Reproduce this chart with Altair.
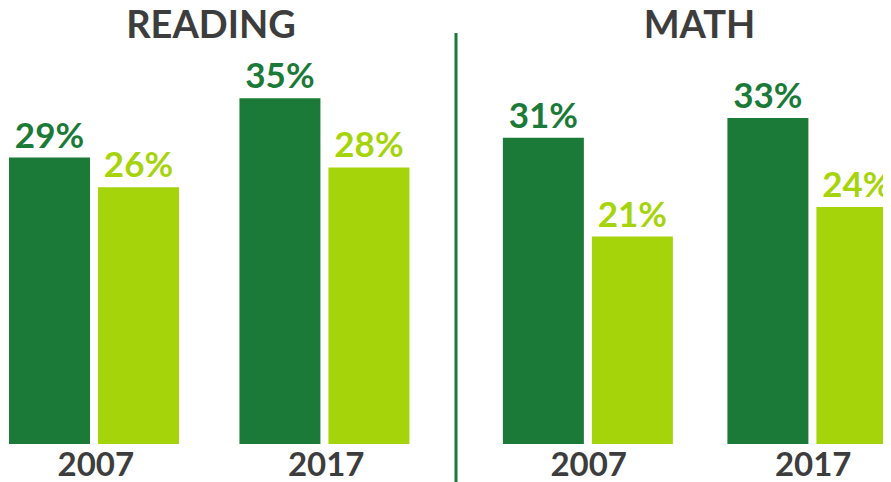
import altair as alt
import pandas as pd

# ---- data ----
years = ["2007", "2007", "2017", "2017"]
groups = ["Group A", "Group B", "Group A", "Group B"]
reading_values = [29, 26, 35, 28]
math_values = [31, 21, 33, 24]
panel_titles = ["READING", "MATH"]
group_domain = ["Group A", "Group B"]
group_colors = ["#1b7a38", "#a6d40a"]

H = 400
Y_MAX = 40.5
FONT = "Lato"
GRAY = "#3d3d3d"
DIVIDER = "#1b7a38"


def panel(title, values, width, x_scale, xo_scale, label_offset=0, title_x=None, divider=False):
    df = pd.DataFrame({"year": years, "group": groups, "value": values})
    base = alt.Chart(df).transform_calculate(label="datum.value + '%'")
    x = alt.X(
        "year:N",
        scale=x_scale,
        axis=alt.Axis(
            title=None, labelAngle=0, domain=False, ticks=False, tickSize=0,
            labelPadding=31, labelBaseline="alphabetic", labelOffset=label_offset,
            labelFontSize=33, labelFont=FONT, labelFontWeight="bold", labelColor=GRAY,
        ),
    )
    xo = alt.XOffset("group:N", scale=xo_scale)
    y = alt.Y("value:Q", scale=alt.Scale(domain=[0, Y_MAX]), axis=None)
    color = alt.Color("group:N", scale=alt.Scale(domain=group_domain, range=group_colors), legend=None)
    bars = base.mark_bar(clip=True).encode(x=x, xOffset=xo, y=y, color=color)
    text = base.mark_text(
        clip=True, dy=-10, baseline="alphabetic", fontSize=35, font=FONT, fontWeight="bold"
    ).encode(x=x, xOffset=xo, y=y, text="label:N", color=color)
    head = alt.Chart(pd.DataFrame({"t": [title]})).mark_text(
        baseline="alphabetic", align="center", fontSize=38, font=FONT, fontWeight="bold", color=GRAY
    ).encode(
        text="t:N",
        x=alt.value(width / 2 if title_x is None else title_x),
        y=alt.value(-5.6),
    )
    layers = [bars, text, head]
    if divider:
        rule = alt.Chart(pd.DataFrame({"d": [0]})).mark_rule(
            color=DIVIDER, strokeWidth=3
        ).encode(x=alt.value(0), y=alt.value(-11), y2=alt.value(H + 38))
        layers.append(rule)
    return alt.layer(*layers).properties(width=width, height=H)


left = panel(
    panel_titles[0], reading_values, 406,
    alt.Scale(paddingInner=0.2468, paddingOuter=0.0043),
    alt.Scale(paddingInner=0.09, paddingOuter=0),
)
right = panel(
    panel_titles[1], math_values, 427,
    alt.Scale(paddingInner=0.307, paddingOuter=0.1044, align=1),
    alt.Scale(paddingInner=0.09, paddingOuter=0, range=[0, 170]),
    label_offset=8, title_x=243.5, divider=True,
)

chart = alt.hconcat(left, right, spacing=40).properties(padding=0).configure_view(stroke=None)
chart.save("out.html", embed_options={"renderer": "svg", "actions": False})
